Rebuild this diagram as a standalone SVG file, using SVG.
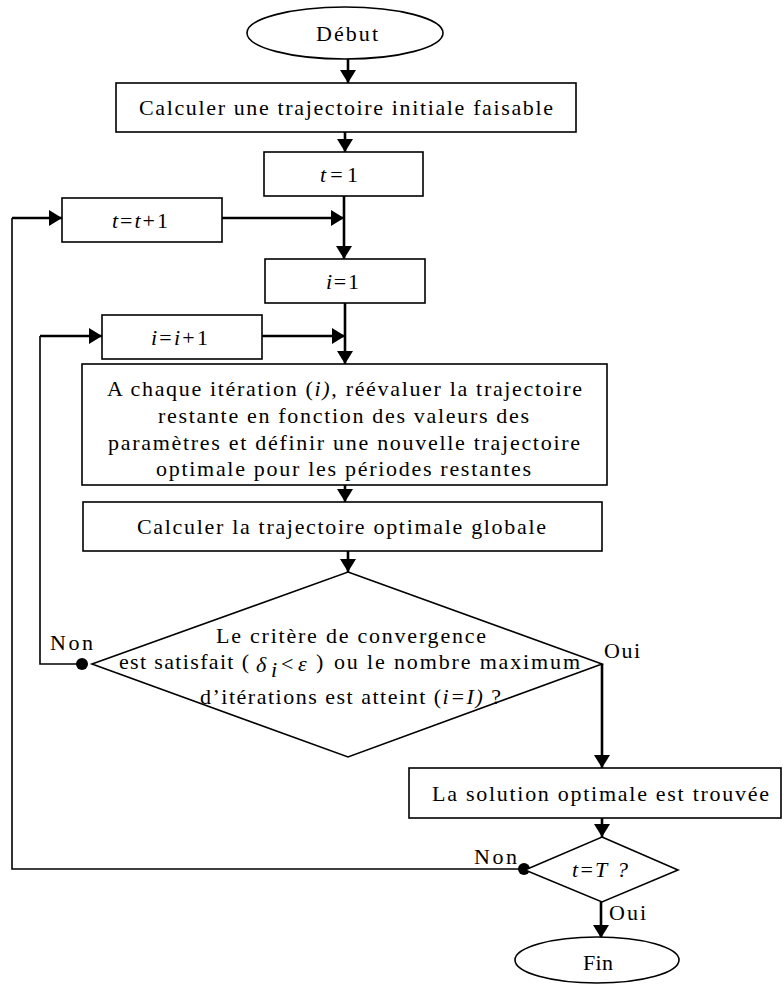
<svg xmlns="http://www.w3.org/2000/svg" width="783" height="985" viewBox="0 0 783 985">
<style>
.bg{fill:#fff}
.shape{fill:#fff;stroke:#000;stroke-width:1.6}
.t{font-family:"Liberation Serif","Times New Roman",serif;font-size:22px;fill:#000}
.it{font-style:italic}
.thick{fill:none;stroke:#000;stroke-width:2.6}
.thin{fill:none;stroke:#000;stroke-width:1.6}
.dot{fill:#000}
</style>
<defs>
<marker id="ah" markerUnits="userSpaceOnUse" markerWidth="14" markerHeight="16" refX="13" refY="8" orient="auto">
<path d="M0,0 L13,8 L0,16 z" fill="#000"/>
</marker>
</defs>
<rect class="bg" x="0" y="0" width="783" height="985"/>

<g id="connectors">
<path class="thick" d="M348,59 V83" marker-end="url(#ah)"/>
<path class="thick" d="M345,132 V152" marker-end="url(#ah)"/>
<path class="thick" d="M344,196 V259" marker-end="url(#ah)"/>
<path class="thick" d="M222,218 H344" marker-end="url(#ah)"/>
<path class="thin" d="M524,869 H12 V218"/>
<path class="thick" d="M12,218 H62" marker-end="url(#ah)"/>
<path class="thick" d="M345,303 V364" marker-end="url(#ah)"/>
<path class="thick" d="M262,336 H345" marker-end="url(#ah)"/>
<path class="thin" d="M82,664 H40 V336"/>
<path class="thick" d="M40,336 H102" marker-end="url(#ah)"/>
<path class="thick" d="M345,485 V502" marker-end="url(#ah)"/>
<path class="thick" d="M348,551 V572" marker-end="url(#ah)"/>
<path class="thick" d="M602,664 V768" marker-end="url(#ah)"/>
<path class="thick" d="M602,818 V837" marker-end="url(#ah)"/>
<path class="thick" d="M601,902 V938" marker-end="url(#ah)"/>
<circle class="dot" cx="82" cy="664" r="6"/>
<circle class="dot" cx="524" cy="869" r="6"/>
<text class="t" x="50" y="650" textLength="43" lengthAdjust="spacing">Non</text>
<text class="t" x="604" y="658" textLength="36" lengthAdjust="spacing">Oui</text>
<text class="t" x="474" y="864" textLength="43" lengthAdjust="spacing">Non</text>
<text class="t" x="609" y="920" textLength="37" lengthAdjust="spacing">Oui</text>
</g>

<g id="debut">
<ellipse class="shape" cx="345" cy="33" rx="98" ry="26"/>
<text class="t" x="316" y="41" textLength="62" lengthAdjust="spacing">Début</text>
</g>

<g id="init">
<rect class="shape" x="116" y="83" width="460" height="49"/>
<text class="t" x="139" y="115" textLength="414" lengthAdjust="spacing">Calculer une trajectoire initiale faisable</text>
</g>

<g id="t1">
<rect class="shape" x="264" y="152" width="159" height="44"/>
<text class="t" x="320" y="182" textLength="38" lengthAdjust="spacing"><tspan class="it">t</tspan>=1</text>
</g>

<g id="tinc">
<rect class="shape" x="62" y="198" width="160" height="44"/>
<text class="t" x="112" y="228" textLength="56" lengthAdjust="spacing"><tspan class="it">t</tspan>=<tspan class="it">t</tspan>+1</text>
</g>

<g id="i1">
<rect class="shape" x="265" y="259" width="160" height="44"/>
<text class="t" x="326" y="289" textLength="33" lengthAdjust="spacing"><tspan class="it">i</tspan>=1</text>
</g>

<g id="iinc">
<rect class="shape" x="102" y="315" width="160" height="44"/>
<text class="t" x="151" y="345" textLength="57" lengthAdjust="spacing"><tspan class="it">i</tspan>=<tspan class="it">i</tspan>+1</text>
</g>

<g id="iteration">
<rect class="shape" x="82" y="364" width="525" height="121"/>
<text class="t" x="107" y="396" textLength="475" lengthAdjust="spacing">A chaque itération (<tspan class="it">i)</tspan>, réévaluer la trajectoire</text>
<text class="t" x="158" y="423" textLength="371" lengthAdjust="spacing">restante en fonction des valeurs des</text>
<text class="t" x="108" y="450" textLength="472" lengthAdjust="spacing">paramètres et définir une nouvelle trajectoire</text>
<text class="t" x="156" y="476" textLength="375" lengthAdjust="spacing">optimale pour les périodes restantes</text>
</g>

<g id="global">
<rect class="shape" x="83" y="502" width="519" height="49"/>
<text class="t" x="137" y="534" textLength="409" lengthAdjust="spacing">Calculer la trajectoire optimale globale</text>
</g>

<g id="convergence">
<polygon class="shape" points="348,572 602,664 348,757 92,664"/>
<text class="t" x="216" y="643" textLength="270" lengthAdjust="spacing">Le critère de convergence</text>
<text class="t" x="119" y="669" textLength="130" lengthAdjust="spacing">est satisfait (</text>
<text class="t it" x="256" y="672" font-size="24">δ</text>
<text class="t it" x="271" y="677" font-size="12">i</text>
<text class="t" x="281" y="671">&lt;</text>
<text class="t it" x="298" y="671" font-size="24">ε</text>
<text class="t" x="316" y="669">)</text>
<text class="t" x="334" y="669" textLength="246" lengthAdjust="spacing">ou le nombre maximum</text>
<text class="t" x="200" y="704" textLength="301" lengthAdjust="spacing">d’itérations est atteint (<tspan class="it">i=I)</tspan> ?</text>
</g>

<g id="solution">
<rect class="shape" x="409" y="768" width="372" height="50"/>
<text class="t" x="432" y="801" textLength="337" lengthAdjust="spacing">La solution optimale est trouvée</text>
</g>

<g id="tT">
<polygon class="shape" points="602,837 678,870 602,902 525,870"/>
<text class="t" x="572" y="877" textLength="56" lengthAdjust="spacing"><tspan class="it">t</tspan>=<tspan class="it">T ?</tspan></text>
</g>

<g id="fin">
<ellipse class="shape" cx="597" cy="960" rx="82" ry="23"/>
<text class="t" x="583" y="970" textLength="30" lengthAdjust="spacing">Fin</text>
</g>
</svg>
